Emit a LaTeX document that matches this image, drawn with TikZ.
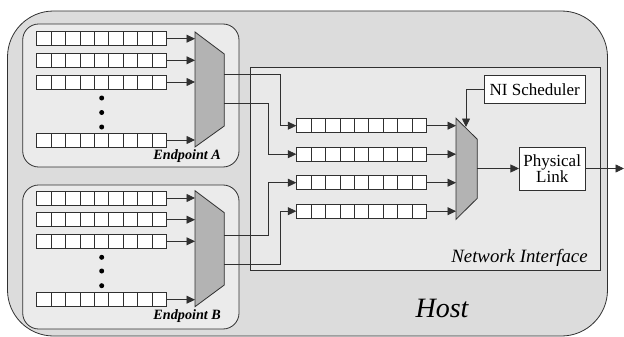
\documentclass[tikz,border=0pt]{standalone}
\usepackage{fontspec}
\setmainfont{Liberation Serif}
\usetikzlibrary{arrows.meta}
\definecolor{hostfill}{HTML}{DCDCDC}
\definecolor{epfill}{HTML}{EBEBEB}
\definecolor{nifill}{HTML}{E9E9E9}
\definecolor{muxfill}{HTML}{B3B3B3}
\definecolor{ln}{HTML}{303030}
\tikzset{
  ln/.style={draw=ln, line width=0.8pt},
  arr/.style={ln, -{Triangle[length=8.5pt,width=8pt]}},
  queue/.style={draw=ln, line width=0.8pt, fill=white, rectangle, minimum width=129.6pt, minimum height=14pt, inner sep=0pt,
    path picture={\foreach \i in {1,...,8}{\draw[ln] ([xshift=\i*14.4pt]path picture bounding box.south west) -- ([xshift=\i*14.4pt]path picture bounding box.north west);}}},
  mux/.style={draw=ln, line width=0.8pt, fill=muxfill},
  boxn/.style={draw=ln, line width=0.8pt, fill=white, rectangle, inner sep=0pt, align=center, font=\fontsize{17}{17}\selectfont},
  dot/.style={circle, fill=black, inner sep=0pt, minimum size=5pt},
  eplabel/.style={font=\fontsize{14.2}{15}\selectfont\bfseries\itshape},
}
\begin{document}
\begin{tikzpicture}[x=1pt,y=-1pt]
\useasboundingbox (0,0) rectangle (624,337);
% Host
\draw[ln, fill=hostfill, rounded corners=46pt] (7.5,11) rectangle (607.5,336);
\node[font=\fontsize{28}{30}\selectfont\itshape] (host) at (442,308) {Host};
% Endpoint boxes
\draw[ln, fill=epfill, rounded corners=16pt] (22.7,24) rectangle (239,167);
\draw[ln, fill=epfill, rounded corners=16pt] (22.7,185) rectangle (239,329);
\node[eplabel] (epa) at (187.2,156) {Endpoint A};
\node[eplabel] (epb) at (187.2,316.5) {Endpoint B};
% Network interface
\draw[ln, fill=nifill] (250.5,67.3) rectangle (600,270);
\node[font=\fontsize{18.8}{20}\selectfont\itshape] (nilabel) at (519.5,258.3) {Network Interface};
% Endpoint A queues
\foreach \n/\y in {1/38.7,2/60.3,3/82,4/140}{
  \node[queue] (qa\n) at (101.5,\y) {};
  \coordinate (ma\n) at (195,\y);
}
\foreach \n/\y in {1/198,2/219.7,3/241.3,4/299.7}{
  \node[queue] (qb\n) at (101.5,\y) {};
  \coordinate (mb\n) at (195,\y);
}
\node[dot] (da1) at (101.7,98) {};
\node[dot] (da2) at (101.7,112.5) {};
\node[dot] (da3) at (101.7,127) {};
\node[dot] (db1) at (101.7,257.3) {};
\node[dot] (db2) at (101.7,271) {};
\node[dot] (db3) at (101.7,285.7) {};
% muxes
\draw[mux] (195,32) -- (224.3,54) -- (224.3,126) -- (195,147) -- cycle;
\draw[mux] (195,190.7) -- (224.3,212.7) -- (224.3,285) -- (195,306.7) -- cycle;
\foreach \n in {1,...,4}{
  \draw[arr] (qa\n.east) -- (ma\n);
  \draw[arr] (qb\n.east) -- (mb\n);
}
\coordinate (oa1) at (224.3,74.3);
\coordinate (oa2) at (224.3,103.3);
\coordinate (ob1) at (224.3,235);
\coordinate (ob2) at (224.3,264);
% NI queues
\foreach \n/\y in {1/125.7,2/154.2,3/182.7,4/211.2}{
  \node[queue] (qn\n) at (361.5,\y) {};
  \coordinate (mn\n) at (456,\y);
  \draw[arr] (qn\n.east) -- (mn\n);
}
\draw[arr] (oa1) -- (280.7,74.3) -- (280.7,125.7) -- (qn1.west);
\draw[arr] (oa2) -- (268,103.3) -- (268,154.2) -- (qn2.west);
\draw[arr] (ob1) -- (268,235) -- (268,182.7) -- (qn3.west);
\draw[arr] (ob2) -- (280.7,264) -- (280.7,211.2) -- (qn4.west);
% NI mux
\draw[mux] (456,118.3) -- (477.3,139.3) -- (477.3,198.3) -- (456,219.3) -- cycle;
\coordinate (mno) at (477.3,168.5);
\coordinate (mns) at (466,127);
% Physical link and scheduler
\node[boxn, minimum width=65.7pt, minimum height=42.7pt] (pl) at (552.2,168.6) {Physical\\[-1pt]Link};
\node[boxn, minimum width=100.7pt, minimum height=28.3pt] (nis) at (534.7,89.2) {NI Scheduler};
\coordinate (out) at (624,168.5);
\draw[arr] (mno) -- (mno -| pl.west);
\draw[arr] (pl.east |- out) -- (out);
\draw[arr] (nis.west) -- (466,89.2) -- (mns);
\end{tikzpicture}
\end{document}
